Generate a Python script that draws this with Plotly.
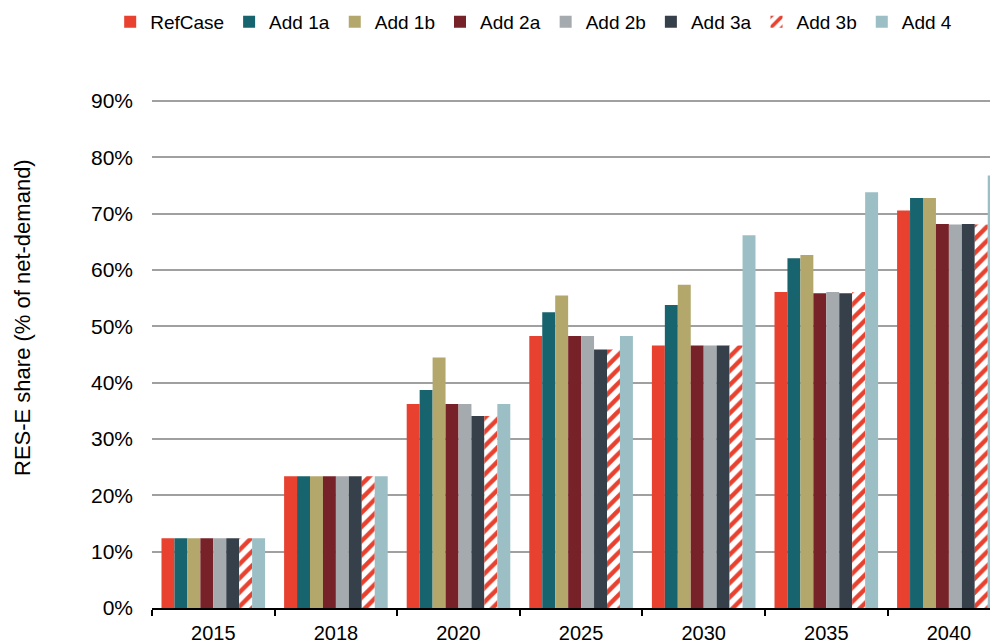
import plotly.graph_objects as go

years = ["2015", "2018", "2020", "2025", "2030", "2035", "2040"]

refcase = [12.4, 23.4, 36.2, 48.3, 46.6, 56.1, 70.6]
add_1a = [12.4, 23.4, 38.7, 52.5, 53.8, 62.1, 72.8]
add_1b = [12.4, 23.4, 44.5, 55.5, 57.4, 62.7, 72.8]
add_2a = [12.4, 23.4, 36.2, 48.3, 46.6, 55.9, 68.2]
add_2b = [12.4, 23.4, 36.2, 48.3, 46.6, 56.1, 68.1]
add_3a = [12.4, 23.4, 34.1, 45.9, 46.6, 55.9, 68.2]
add_3b = [12.4, 23.4, 34.1, 45.9, 46.6, 56.1, 68.1]
add_4 = [12.4, 23.4, 36.2, 48.3, 66.2, 73.8, 76.8]

series = [
    ("RefCase", refcase, "#E8412F"),
    ("Add 1a", add_1a, "#17636E"),
    ("Add 1b", add_1b, "#B3A76C"),
    ("Add 2a", add_2a, "#772228"),
    ("Add 2b", add_2b, "#A4AAAD"),
    ("Add 3a", add_3a, "#36404A"),
    ("Add 3b", add_3b, "hatch"),
    ("Add 4", add_4, "#9BBFC4"),
]

FONT = "Liberation Sans, Arial, sans-serif"

# page body has an 8px margin: figure coords = screen coords - 8
W, H = 990, 636
L, T, B = 144, 92, 36
PW = W - L
PH = H - T - B
CAT_W = 122.6

fig = go.Figure()
for name, vals, col in series:
    if col == "hatch":
        marker = dict(
            color="white",
            line=dict(width=0),
            pattern=dict(shape="/", fgcolor="#E8412F", bgcolor="white",
                         size=10, solidity=0.45, fillmode="replace"),
        )
    else:
        marker = dict(color=col, line=dict(width=0))
    fig.add_trace(go.Bar(name=name, x=years, y=vals, marker=marker))

fig.update_layout(
    width=W, height=H,
    barmode="group", bargap=0.155, bargroupgap=0,
    plot_bgcolor="white", paper_bgcolor="white",
    margin=dict(l=L, r=0, t=T, b=B, autoexpand=False),
    font=dict(family=FONT, size=21, color="black"),
    legend=dict(
        orientation="h", xref="container", yref="container",
        x=0.531, xanchor="center", y=1 - 14 / H, yanchor="middle",
        font=dict(size=19), itemwidth=30, traceorder="normal",
        tracegroupgap=0,
    ),
    showlegend=True,
)

fig.update_xaxes(
    type="category", range=[-0.5, -0.5 + PW / CAT_W],
    showline=True, linecolor="black", linewidth=1.5,
    ticks="outside", tickson="boundaries", ticklen=6, tickwidth=1.5,
    tickcolor="black", showgrid=False, automargin=False,
    ticklabelstandoff=6,
    tickfont=dict(size=20),
)
fig.update_yaxes(
    range=[0, 90.2], dtick=10, tick0=0, ticksuffix="%",
    showgrid=True, gridcolor="#A0A0A0", gridwidth=2,
    showline=False, zeroline=False, ticks="", automargin=False,
    ticklabelstandoff=18,
    tickfont=dict(size=21),
)

fig.add_annotation(
    text="RES-E share (% of net-demand)", textangle=-90,
    xref="paper", yref="paper", x=(14 - L) / PW, y=(PH + T - 310) / PH,
    xanchor="center", yanchor="middle", showarrow=False,
    font=dict(size=22, family=FONT, color="black"),
)

fig.write_html(
    "out.html",
    post_script="document.documentElement.style.overflow='hidden';"
                "document.body.style.overflow='hidden';",
)
